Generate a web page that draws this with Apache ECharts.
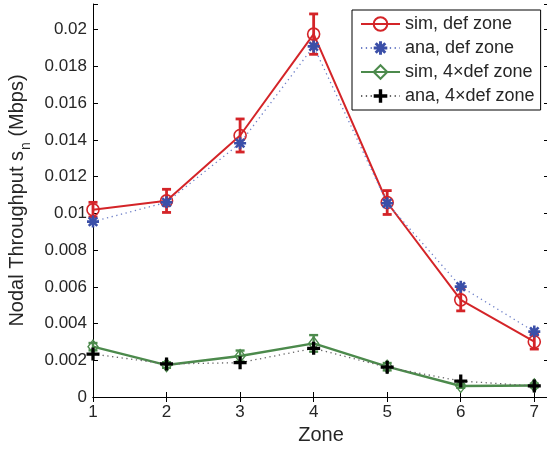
<!DOCTYPE html>
<html>
<head>
<meta charset="utf-8">
<script src="https://cdn.jsdelivr.net/npm/echarts@6/dist/echarts.min.js"></script>
<style>html,body{margin:0;padding:0;background:#fff;}#c{width:547px;height:449px;}</style>
</head>
<body>
<div id="c"></div>
<script>
const zones = [1, 2, 3, 4, 5, 6, 7];
const xTickLabels = ['1', '2', '3', '4', '5', '6', '7'];
const simDef = [0.0102, 0.01068, 0.01424, 0.01976, 0.01059, 0.00529, 0.00301];
const simDefErr = [0.0004, 0.00063, 0.0009, 0.0011, 0.00065, 0.0006, 0.0004];
const anaDef = [0.00955, 0.0106, 0.01382, 0.01909, 0.01055, 0.00601, 0.00356];
const sim4 = [0.00274, 0.00174, 0.00223, 0.00292, 0.00165, 0.0006, 0.00063];
const sim4Err = [0.0002, 0.00015, 0.0003, 0.00045, 0.0002, 0.0001, 0.0001];
const ana4 = [0.00234, 0.0018, 0.00187, 0.00265, 0.00162, 0.00087, 0.0006];
const seriesNames = ['sim, def zone', 'ana, def zone', 'sim, 4\u00d7def zone', 'ana, 4\u00d7def zone'];

const RED = '#d42428', BLUE = '#3b4fa8', GREEN = '#4c8a4c', BLACK = '#000';
const FONT = 'Liberation Sans, Arial, Helvetica, sans-serif';
const TXT = '#262626';

const starPath = 'path://M-1.3,-6 L1.3,-6 L1.3,6 L-1.3,6 Z M-6,-1.3 L6,-1.3 L6,1.3 L-6,1.3 Z ' +
  'M-3.32,-5.16 L5.16,3.32 L3.32,5.16 L-5.16,-3.32 Z M-5.16,3.32 L3.32,-5.16 L5.16,-3.32 L-3.32,5.16 Z';
const plusPath = 'path://M-1.5,-6 L1.5,-6 L1.5,6 L-1.5,6 Z M-6,-1.5 L6,-1.5 L6,1.5 L-6,1.5 Z';

function pairs(vals) { return zones.map((z, i) => [z, vals[i]]); }
function triples(vals, errs) { return zones.map((z, i) => [z, vals[i], errs[i]]); }

function errRender(color, lw) {
  return function (params, api) {
    const x = api.value(0), y = api.value(1), e = api.value(2);
    const t = api.coord([x, y + e]);
    const b = api.coord([x, y - e]);
    const hw = 4.5;
    const st = { stroke: color, lineWidth: lw };
    return {
      type: 'group',
      children: [
        { type: 'line', shape: { x1: t[0], y1: t[1], x2: b[0], y2: b[1] }, style: st },
        { type: 'line', shape: { x1: t[0] - hw, y1: t[1], x2: t[0] + hw, y2: t[1] }, style: st },
        { type: 'line', shape: { x1: b[0] - hw, y1: b[1], x2: b[0] + hw, y2: b[1] }, style: st }
      ]
    };
  };
}

function yFmt(v) {
  const k = v / 0.002;
  if (Math.abs(k - Math.round(k)) > 1e-6) return '';
  return String(parseFloat(v.toFixed(4)));
}
function xFmt(v) {
  const i = zones.indexOf(Math.round(v));
  if (Math.abs(v - Math.round(v)) > 1e-6 || i < 0) return '';
  return xTickLabels[i];
}

const axisCommon = {
  axisLine: { show: true, lineStyle: { color: '#000', width: 1 } },
  axisTick: { show: true, inside: true, length: 5, lineStyle: { color: '#000' } },
  splitLine: { show: false }
};

const chart = echarts.init(document.getElementById('c'), null, { renderer: 'canvas' });
chart.setOption({
  animation: false,
  backgroundColor: '#fff',
  grid: { left: 93, width: 456, top: 4, height: 393, containLabel: false, outerBoundsMode: 'none' },
  legend: {
    data: seriesNames,
    orient: 'vertical',
    left: 352, top: 10,
    padding: [5, 6, 5, 8],
    itemWidth: 39, itemHeight: 17, itemGap: 6,
    backgroundColor: '#fff',
    borderColor: '#000', borderWidth: 1, borderRadius: 0,
    textStyle: { fontFamily: FONT, fontSize: 18, color: TXT, lineHeight: 18 }
  },
  xAxis: [
    Object.assign({}, axisCommon, {
      type: 'value', min: 1, max: 7.2, interval: 1, position: 'bottom',
      name: 'Zone', nameLocation: 'middle', nameGap: 26,
      nameTextStyle: { fontFamily: FONT, fontSize: 20, color: TXT },
      axisLabel: { fontFamily: FONT, fontSize: 17, color: TXT, margin: 7, formatter: xFmt }
    }),
    Object.assign({}, axisCommon, {
      type: 'value', min: 1, max: 7.2, interval: 1, position: 'top',
      axisLabel: { show: false }
    })
  ],
  yAxis: [
    Object.assign({}, axisCommon, {
      type: 'value', min: 0, max: 0.0214, interval: 0.002, position: 'left',
      name: '{a|Nodal Throughput s}{b|n}{a| (Mbps)}',
      nameLocation: 'middle', nameGap: 56,
      nameTextStyle: {
        fontFamily: FONT, color: TXT,
        rich: {
          a: { fontFamily: FONT, fontSize: 20, color: TXT, verticalAlign: 'middle' },
          b: { fontFamily: FONT, fontSize: 14, color: TXT, verticalAlign: 'middle', padding: [18, 0, 0, 1] }
        }
      },
      axisLabel: { fontFamily: FONT, fontSize: 17, color: TXT, margin: 6, formatter: yFmt }
    }),
    Object.assign({}, axisCommon, {
      type: 'value', min: 0, max: 0.0214, interval: 0.002, position: 'right',
      axisLabel: { show: false }
    })
  ],
  series: [
    {
      name: seriesNames[0], type: 'line', data: pairs(simDef),
      symbol: 'circle', symbolSize: 12,
      itemStyle: { color: 'rgba(255,255,255,0)', borderColor: RED, borderWidth: 1.6 },
      lineStyle: { color: RED, width: 2 }, z: 3
    },
    {
      name: 'errSimDef', type: 'custom', data: triples(simDef, simDefErr),
      encode: { x: 0, y: 1 }, renderItem: errRender(RED, 2.8), z: 3, clip: false
    },
    {
      name: seriesNames[1], type: 'line', data: pairs(anaDef),
      symbol: starPath, symbolSize: 12,
      itemStyle: { color: BLUE, borderWidth: 0 },
      lineStyle: { color: '#6f80c8', width: 1.3, type: [1.3, 3.5] }, z: 4
    },
    {
      name: seriesNames[2], type: 'line', data: pairs(sim4),
      symbol: 'diamond', symbolSize: [10, 13],
      itemStyle: { color: 'rgba(255,255,255,0)', borderColor: GREEN, borderWidth: 1.4 },
      lineStyle: { color: GREEN, width: 2.4 }, z: 5
    },
    {
      name: 'errSim4', type: 'custom', data: triples(sim4, sim4Err),
      encode: { x: 0, y: 1 }, renderItem: errRender(GREEN, 2.4), z: 5, clip: false
    },
    {
      name: seriesNames[3], type: 'line', data: pairs(ana4),
      symbol: plusPath, symbolSize: 13,
      itemStyle: { color: BLACK, borderWidth: 0 },
      lineStyle: { color: '#666', width: 1.3, type: [1.3, 3.5] }, z: 6
    }
  ]
});
</script>
</body>
</html>
